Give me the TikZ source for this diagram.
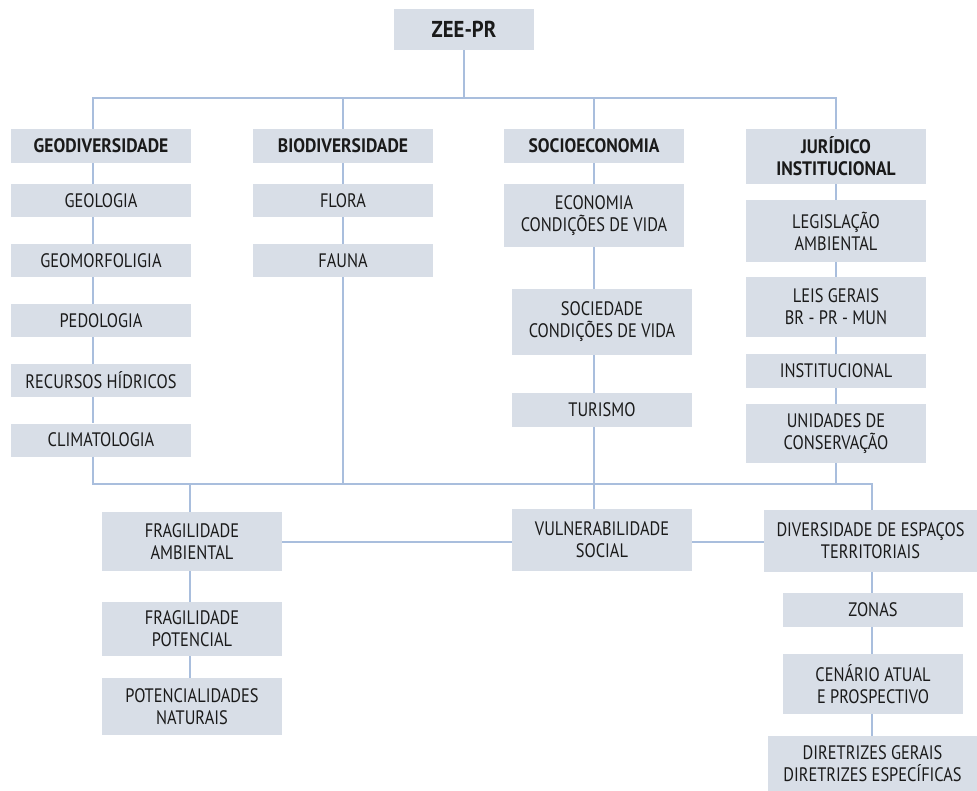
\documentclass[tikz,border=0pt]{standalone}
\usepackage{fontspec}
\setmainfont{PT Sans}[FakeStretch=0.84, BoldFeatures={FakeStretch=0.9}]
\begin{document}
\begin{tikzpicture}[x=1pt,y=-1pt,
  box/.style={fill=boxfill, draw=none, text=txt, align=center, inner sep=0pt,
    minimum width=180pt, font=\fontsize{19.5}{22}\selectfont},
  head/.style={box, font=\fontsize{19.5}{22}\selectfont\bfseries},
  conn/.style={draw=linecol, line width=1.3pt}]
\definecolor{boxfill}{HTML}{D8DEE7}
\definecolor{linecol}{HTML}{A9BEDD}
\definecolor{txt}{HTML}{1A1A1A}
\useasboundingbox (0,0) rectangle (977,791);
% top
\node[head, minimum width=140pt, minimum height=41pt, font=\fontsize{23}{26}\selectfont\bfseries] (zee) at (464,29.5) {ZEE-PR};
\node[head, minimum height=34pt] (geo) at (101,146) {GEODIVERSIDADE};
\node[head, minimum height=34pt] (bio) at (343,146) {BIODIVERSIDADE};
\node[head, minimum height=34pt] (soc) at (594,146) {SOCIOECONOMIA};
\node[head, minimum height=55pt] (jur) at (836,156.5) {JURÍDICO\\INSTITUCIONAL};
% geodiversidade column
\node[box, minimum height=33pt] (geologia) at (101,200.5) {GEOLOGIA};
\node[box, minimum height=33pt] (geomorf) at (101,260.5) {GEOMORFOLIGIA};
\node[box, minimum height=33pt] (pedo) at (101,320.5) {PEDOLOGIA};
\node[box, minimum height=33pt] (recursos) at (101,380.5) {RECURSOS HÍDRICOS};
\node[box, minimum height=33pt] (clima) at (101,440) {CLIMATOLOGIA};
% biodiversidade column
\node[box, minimum height=33pt] (flora) at (343,200.5) {FLORA};
\node[box, minimum height=33pt] (fauna) at (343,260.5) {FAUNA};
% socioeconomia column
\node[box, minimum height=63pt] (econ) at (594,215.5) {ECONOMIA\\CONDIÇÕES DE VIDA};
\node[box, minimum height=66pt] (socied) at (602,322) {SOCIEDADE\\CONDIÇÕES DE VIDA};
\node[box, minimum height=34pt] (turismo) at (602,410) {TURISMO};
% juridico column
\node[box, minimum height=62pt] (leg) at (836,231) {LEGISLAÇÃO\\AMBIENTAL};
\node[box, minimum height=60pt] (leis) at (836,307) {LEIS GERAIS\\BR - PR - MUN};
\node[box, minimum height=34pt] (inst) at (836,371) {INSTITUCIONAL};
\node[box, minimum height=59pt] (unid) at (836,433.5) {UNIDADES DE\\CONSERVAÇÃO};
% bottom
\node[box, minimum height=59pt] (fragamb) at (192,541.5) {FRAGILIDADE\\AMBIENTAL};
\node[box, minimum height=54pt] (fragpot) at (192,629) {FRAGILIDADE\\POTENCIAL};
\node[box, minimum height=57pt] (potnat) at (192,706.5) {POTENCIALIDADES\\NATURAIS};
\node[box, minimum height=62pt] (vuln) at (602,540) {VULNERABILIDADE\\SOCIAL};
\node[box, minimum width=213pt, minimum height=62pt] (div) at (870.5,541) {DIVERSIDADE DE ESPAÇOS\\TERRITORIAIS};
\node[box, minimum height=34pt] (zonas) at (873,610) {ZONAS};
\node[box, minimum height=60pt] (cenario) at (873,684) {CENÁRIO ATUAL\\E PROSPECTIVO};
\node[box, minimum width=209pt, minimum height=55pt] (diret) at (872.5,763.5) {DIRETRIZES GERAIS\\DIRETRIZES ESPECÍFICAS};
% helper coordinates
\coordinate (busTop) at (0,98);
\coordinate (busBot) at (0,484);
\coordinate (geoX) at (93,0);
\coordinate (fX) at (190,0);
\coordinate (dX) at (872,0);
% top bus
\draw[conn] (zee.south) -- (zee.south |- busTop);
\draw[conn] (geo.north -| geoX) -- (geoX |- busTop) -- (jur.north |- busTop) -- (jur.north);
\draw[conn] (bio.north) -- (bio.north |- busTop);
\draw[conn] (soc.north) -- (soc.north |- busTop);
% geo column
\draw[conn] (geo.south -| geoX) -- (geologia.north -| geoX);
\draw[conn] (geologia.south -| geoX) -- (geomorf.north -| geoX);
\draw[conn] (geomorf.south -| geoX) -- (pedo.north -| geoX);
\draw[conn] (pedo.south -| geoX) -- (recursos.north -| geoX);
\draw[conn] (recursos.south -| geoX) -- (clima.north -| geoX);
% bio column
\draw[conn] (bio.south) -- (flora.north);
\draw[conn] (flora.south) -- (fauna.north);
\draw[conn] (fauna.south) -- (fauna.south |- busBot);
% socio column
\draw[conn] (soc.south) -- (econ.north);
\draw[conn] (econ.south) -- (econ.south |- socied.north);
\draw[conn] (socied.south -| econ.south) -- (econ.south |- turismo.north);
\draw[conn] (turismo.south -| econ.south) -- (econ.south |- vuln.north);
% juridico column
\draw[conn] (jur.south) -- (leg.north);
\draw[conn] (leg.south) -- (leis.north);
\draw[conn] (leis.south) -- (inst.north);
\draw[conn] (inst.south) -- (unid.north);
\draw[conn] (unid.south) -- (unid.south |- busBot);
% bottom bus
\draw[conn] (clima.south -| geoX) -- (geoX |- busBot) -- (dX |- busBot) -- (dX |- div.north);
\draw[conn] (fX |- busBot) -- (fX |- fragamb.north);
% fragilidade column
\draw[conn] (fragamb.south -| fX) -- (fX |- fragpot.north);
\draw[conn] (fragpot.south -| fX) -- (fX |- potnat.north);
% horizontal links
\draw[conn] (fragamb.east |- 0,542) -- (vuln.west |- 0,542);
\draw[conn] (vuln.east |- 0,542) -- (div.west |- 0,542);
% diversidade column
\draw[conn] (div.south -| dX) -- (dX |- zonas.north);
\draw[conn] (zonas.south -| dX) -- (dX |- cenario.north);
\draw[conn] (cenario.south -| dX) -- (dX |- diret.north);
\end{tikzpicture}
\end{document}
